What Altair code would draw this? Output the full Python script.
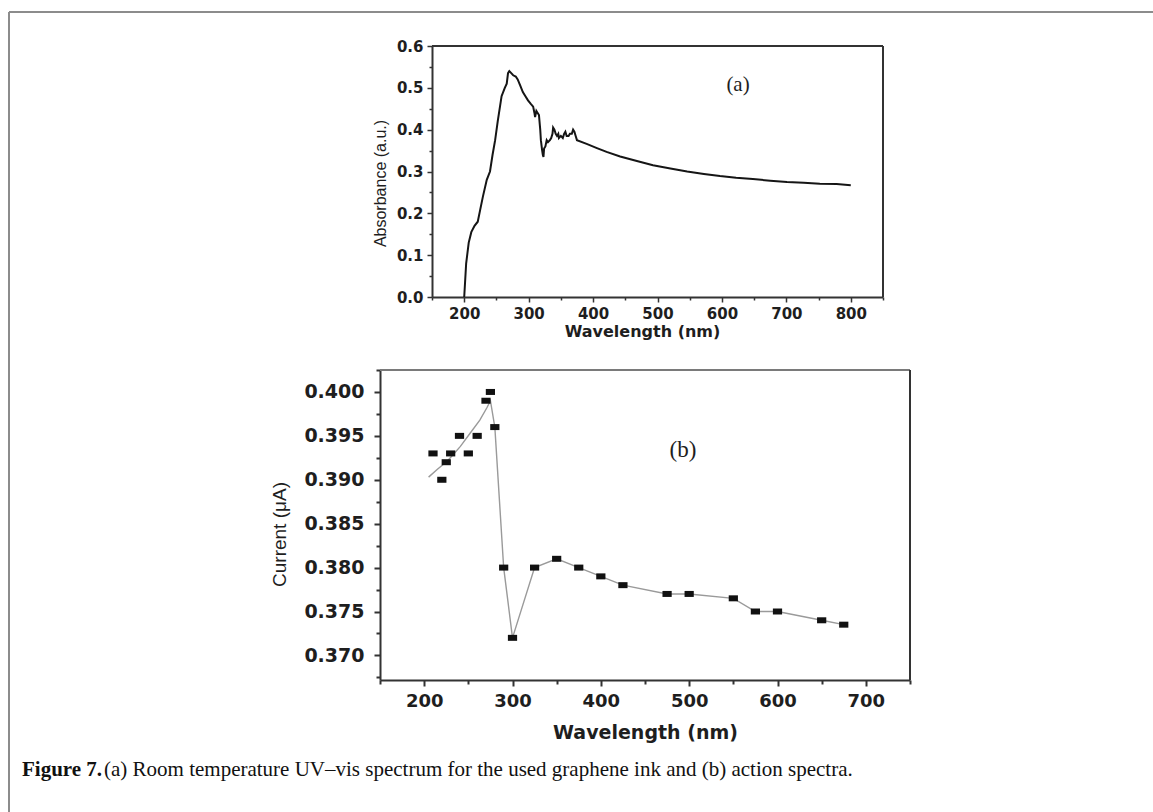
import altair as alt
import pandas as pd

# ---------------- Panel (a): UV-vis absorbance ----------------
wl_a = [200, 203, 207, 211, 216, 221, 225, 229, 235, 240, 244, 248, 252, 258, 263, 266, 268, 270,
        273, 276, 280, 283, 287, 291, 295, 299, 303, 307, 309, 310, 312, 314, 316, 318, 319, 321,
        322, 323, 324, 326, 328, 330, 333, 335, 337, 338, 340, 342, 344, 346, 347, 350, 353, 355,
        357, 359, 362, 364, 367, 369, 371, 373, 375, 390, 406, 421, 442, 468, 493, 520, 546, 572,
        597, 622, 648, 675, 701, 727, 752, 778, 800]
abs_a = [0.0, 0.08, 0.13, 0.155, 0.17, 0.18, 0.21, 0.24, 0.28, 0.30, 0.34, 0.375, 0.42, 0.48, 0.50, 0.51, 0.535, 0.54,
         0.535, 0.53, 0.527, 0.52, 0.505, 0.49, 0.48, 0.47, 0.462, 0.455, 0.44, 0.43, 0.445, 0.44, 0.435, 0.40, 0.375, 0.35,
         0.34, 0.335, 0.355, 0.36, 0.375, 0.37, 0.375, 0.38, 0.39, 0.405, 0.40, 0.39, 0.385, 0.39, 0.38, 0.385, 0.38, 0.39,
         0.395, 0.385, 0.385, 0.39, 0.39, 0.40, 0.395, 0.385, 0.375, 0.366, 0.356, 0.347, 0.336, 0.325, 0.315, 0.307, 0.300, 0.294,
         0.289, 0.285, 0.282, 0.278, 0.275, 0.273, 0.271, 0.270, 0.267]

# ---------------- Panel (b): action spectra ----------------
wl_b = [210, 220, 225, 230, 240, 250, 260, 270, 275, 280, 290, 300, 325, 350, 375, 400, 425,
        475, 500, 550, 575, 600, 650, 675]
cur_b = [0.393, 0.390, 0.392, 0.393, 0.395, 0.393, 0.395, 0.399, 0.400, 0.396, 0.380, 0.372, 0.380,
         0.381, 0.380, 0.379, 0.378, 0.377, 0.377, 0.3765, 0.375, 0.375, 0.374, 0.3735]
# grey trace: smooth fit over the UV rise, then joining the points
trace_wl = [205, 215, 226, 234, 241, 252, 263, 271, 275, 280, 290, 300, 325, 350, 375, 400, 425,
            475, 500, 550, 575, 600, 650, 675]
trace_cur = [0.3903, 0.3912, 0.3921, 0.3930, 0.3938, 0.3953, 0.3968, 0.3982, 0.3990, 0.396, 0.380, 0.372,
             0.380, 0.381, 0.380, 0.379, 0.378, 0.377, 0.377, 0.3765, 0.375, 0.375, 0.374, 0.3735]

ticks_xa = [150, 200, 250, 300, 350, 400, 450, 500, 550, 600, 650, 700, 750, 800, 850]
ticks_ya = [0.0, 0.05, 0.1, 0.15, 0.2, 0.25, 0.3, 0.35, 0.4, 0.45, 0.5, 0.55, 0.6]
ticks_xb = [150, 200, 250, 300, 350, 400, 450, 500, 550, 600, 650, 700, 750]
ticks_yb = [0.3675, 0.37, 0.3725, 0.375, 0.3775, 0.38, 0.3825, 0.385, 0.3875, 0.39, 0.3925,
            0.395, 0.3975, 0.4, 0.4025]

caption_bold = "Figure 7."
caption_rest = "(a) Room temperature UV\u2013vis spectrum for the used graphene ink and (b) action spectra."

W, H = 1153, 812
AX = "#333333"
TXT = "#1e1e1e"

# ---------- panel (a) ----------
df_a = pd.DataFrame({"wl": wl_a, "val": abs_a})
frame_a = pd.DataFrame({"wl": [150, 850], "val": [0.6, 0.0], "wl2": [850, 850], "val2": [0.6, 0.6]})
lab_a = pd.DataFrame({"wl": [625], "val": [0.507], "t": ["(a)"]})

test_xa = "datum.value % 100 === 0"
test_ya = "abs(datum.value*10 - round(datum.value*10)) < 0.000001"

axis_xa = alt.Axis(
    orient="bottom", offset=-(H - 297), values=ticks_xa, format="d",
    labelExpr=f"{test_xa} ? datum.label : ''",
    tickSize={"condition": {"test": test_xa, "value": 5}, "value": 3},
    tickWidth=1.5, tickColor=AX, domainColor=AX, domainWidth=2, grid=False,
    labelFont="DejaVu Sans", labelFontWeight="bold", labelFontSize=15, labelColor=TXT,
    labelPadding=4, labelFlush=False, labelOverlap=False,
    title="Wavelength (nm)", titleFont="DejaVu Sans", titleFontWeight="bold", titleFontSize=16,
    titleColor=TXT, titlePadding=2, titleX=642,
)
axis_ya = alt.Axis(
    orient="left", offset=-432, values=ticks_ya, format=".1f",
    labelExpr=f"{test_ya} ? datum.label : ''",
    tickSize={"condition": {"test": test_ya, "value": 5}, "value": 3},
    tickWidth=1.5, tickColor=AX, domainColor=AX, domainWidth=2, grid=False,
    labelFont="DejaVu Sans", labelFontWeight="bold", labelFontSize=15, labelColor=TXT,
    labelPadding=4, labelFlush=False, labelOverlap=False,
    title="Absorbance (a.u.)", titleFont="Liberation Sans", titleFontWeight="normal", titleFontSize=16,
    titleColor=TXT, titlePadding=8, titleY=183,
)
xa = alt.X("wl:Q", scale=alt.Scale(domain=[150, 850], range=[432, 883], nice=False, zero=False), axis=axis_xa)
ya = alt.Y("val:Q", scale=alt.Scale(domain=[0, 0.6], range=[297, 46], nice=False, zero=False), axis=axis_ya)

line_a = alt.Chart(df_a).mark_line(color="#151515", strokeWidth=2).encode(x=xa, y=ya, order="wl:Q")
box_a = alt.Chart(frame_a).mark_rule(color=AX, strokeWidth=2).encode(x=xa, y=ya, x2="wl2:Q", y2="val2:Q")
text_a = alt.Chart(lab_a).mark_text(font="Liberation Serif", fontSize=21, color=TXT).encode(x=xa, y=ya, text="t:N")
panel_a = alt.layer(box_a, line_a, text_a)

# ---------- panel (b) ----------
df_b = pd.DataFrame({"wl": wl_b, "val": cur_b})
df_tr = pd.DataFrame({"wl": trace_wl, "val": trace_cur, "i": list(range(len(trace_wl)))})
frame_b = pd.DataFrame({"wl": [150, 750], "val": [0.4025, 0.3672], "wl2": [750, 750],
                        "val2": [0.4025, 0.4025], "c": ["top", "right"]})
lab_b = pd.DataFrame({"wl": [493], "val": [0.3934], "t": ["(b)"]})

test_xb = "datum.value % 100 === 0"
test_yb = "abs(datum.value*200 - round(datum.value*200)) < 0.0001"

axis_xb = alt.Axis(
    orient="bottom", offset=-(H - 680), values=ticks_xb, format="d",
    labelExpr=f"{test_xb} ? datum.label : ''",
    tickSize={"condition": {"test": test_xb, "value": 6}, "value": 4},
    tickWidth=2, tickColor=AX, domainColor=AX, domainWidth=2, grid=False,
    labelFont="DejaVu Sans", labelFontWeight="bold", labelFontSize=18, labelColor=TXT,
    labelPadding=6, labelFlush=False, labelOverlap=False,
    title="Wavelength (nm)", titleFont="DejaVu Sans", titleFontWeight="bold", titleFontSize=19,
    titleColor=TXT, titlePadding=13,
)
axis_yb = alt.Axis(
    orient="left", offset=-380, values=ticks_yb, format=".3f",
    labelExpr=f"{test_yb} ? datum.label : ''",
    tickSize={"condition": {"test": test_yb, "value": 6}, "value": 4},
    tickWidth=2, tickColor=AX, domainColor=AX, domainWidth=2, grid=False,
    labelFont="DejaVu Sans", labelFontWeight="bold", labelFontSize=19, labelColor=TXT,
    labelPadding=10, labelFlush=False, labelOverlap=False,
    title="Current (\u03bcA)", titleFont="Liberation Sans", titleFontWeight="normal", titleFontSize=19,
    titleColor=TXT, titlePadding=14, titleY=534,
)
xb = alt.X("wl:Q", scale=alt.Scale(domain=[150, 750], range=[380, 910], nice=False, zero=False), axis=axis_xb)
yb = alt.Y("val:Q", scale=alt.Scale(domain=[0.3672, 0.4025], range=[680, 370], nice=False, zero=False), axis=axis_yb)

box_b = alt.Chart(frame_b).mark_rule(strokeWidth=2).encode(
    x=xb, y=yb, x2="wl2:Q", y2="val2:Q",
    color=alt.Color("c:N", scale=alt.Scale(domain=["top", "right"], range=["#7a7a7a", AX]), legend=None),
)
trace_b = alt.Chart(df_tr).mark_line(color="#9a9a9a", strokeWidth=1.4).encode(x=xb, y=yb, order="i:Q")
pts_b = alt.Chart(df_b).mark_point(
    shape="M-1,-0.65L1,-0.65L1,0.65L-1,0.65Z", filled=True, size=85, color="#111111", opacity=1
).encode(x=xb, y=yb)
text_b = alt.Chart(lab_b).mark_text(font="Liberation Serif", fontSize=23, color=TXT).encode(x=xb, y=yb, text="t:N")
panel_b = alt.layer(box_b, trace_b, pts_b, text_b)

# ---------- frame border and caption ----------
one = pd.DataFrame({"k": [0]})
border_l = alt.Chart(one).mark_rule(color="#8c8c8c", strokeWidth=2).encode(
    x=alt.value(9), y=alt.value(12), y2=alt.value(H))
border_t = alt.Chart(one).mark_rule(color="#8c8c8c", strokeWidth=2).encode(
    x=alt.value(9), x2=alt.value(W), y=alt.value(12))
cap1 = alt.Chart(one).mark_text(
    text=caption_bold, font="Liberation Serif", fontWeight="bold", fontSize=21, color="#111111",
    align="left", baseline="alphabetic").encode(x=alt.value(22), y=alt.value(776))
cap2 = alt.Chart(one).mark_text(
    text=caption_rest, font="Liberation Serif", fontSize=21, color="#111111",
    align="left", baseline="alphabetic").encode(x=alt.value(104), y=alt.value(776))

chart = alt.layer(border_l, border_t, panel_a, panel_b, cap1, cap2).resolve_scale(
    x="independent", y="independent", color="independent"
).resolve_axis(
    x="independent", y="independent"
).properties(
    width=W, height=H, padding=0, autosize=alt.AutoSizeParams(type="none"), background="white"
).configure_view(stroke=None)

chart.save("out.html", embed_options={"renderer": "svg", "actions": False})
